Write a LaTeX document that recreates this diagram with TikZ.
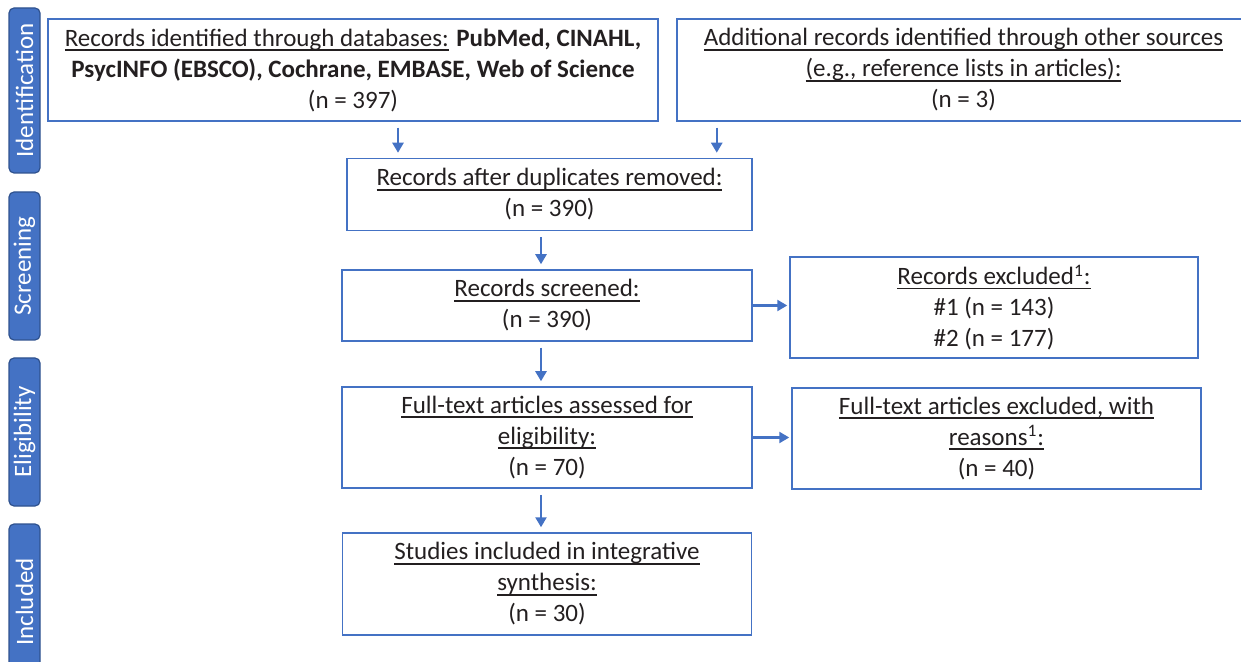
\documentclass[tikz,border=0pt]{standalone}
\usepackage{fontspec}
\setmainfont{Carlito}
\usepackage{xcolor}
\usetikzlibrary{positioning, arrows.meta}

\definecolor{prismablue}{HTML}{4472C4}
\definecolor{prismadark}{HTML}{2F528F}
\definecolor{ink}{HTML}{231F20}

\newlength\ulwd
\newcommand{\uln}[1]{\settowidth{\ulwd}{#1}\rlap{\rule[-2.3pt]{\ulwd}{0.8pt}}#1}

\begin{document}
\begin{tikzpicture}[x=0.5pt, y=-0.5pt, on grid,
    font=\fontsize{12.5}{15.5}\selectfont,
    box/.style={draw=prismablue, line width=0.75pt, text=ink, align=center,
        inner sep=0pt, minimum width=205pt, minimum height=50.5pt},
    phase/.style={draw=prismadark, fill=prismablue, line width=0.6pt,
        rounded corners=2.5pt, text=white, rotate=90, inner sep=0pt,
        minimum height=15.5pt},
    flow/.style={draw=prismablue, line width=1.2pt,
        -{Triangle[length=5pt, width=5.5pt]}, shorten <=3pt, shorten >=2.5pt}]
        \useasboundingbox (0,0) rectangle (1241,662);

        % phases on the left
        \node[phase, minimum width=82.5pt] (ident) at (24.5,90.5) {Identification};
        \node[phase, minimum width=74pt] (screen) at (24.5,266) {Screening};
        \node[phase, minimum width=74pt] (elig) at (24.5,432) {Eligibility};
        \node[phase, minimum width=78pt] (incl) at (24.5,602) {Included};

        % boxes
        \node[box, minimum width=305pt, minimum height=51pt] (db) at (353,70)
            {\uln{Records identified through databases:} \textbf{PubMed, CINAHL,}\\
             \textbf{PsycINFO (EBSCO), Cochrane, EMBASE, Web of Science}\\
             (n = 397)};
        \node[box, minimum width=286.5pt, minimum height=51pt] (other) [right=305.25pt of db]
            {\uln{Additional records identified through other sources}\\
             \uln{(e.g., reference lists in articles):}\\
             (n = 3)};
        \node[box, minimum width=202.5pt, minimum height=36pt] (dup) [below right=62.25pt and 98.25pt of db]
            {\uln{Records after duplicates removed:}\\(n = 390)};
        \node[box, minimum height=35.5pt] (scr) [below left=55.5pt and 1.25pt of dup]
            {\uln{Records screened:}\\(n = 390)};
        \node[box, minimum width=204pt] (excl) [below right=1pt and 223.5pt of scr]
            {\uln{Records excluded\textsuperscript{1}:}\\\#1 (n = 143)\\\#2 (n = 177)};
        \node[box] (full) [below=66pt of scr]
            {\uln{Full-text articles assessed for}\\\uln{eligibility:}\\(n = 70)};
        \node[box, minimum width=204.5pt] (fullexcl) [below right=0.5pt and 224.75pt of full]
            {\uln{Full-text articles excluded, with}\\\uln{reasons\textsuperscript{1}:}\\(n = 40)};
        \node[box, minimum width=204.5pt, minimum height=51pt] (final) [below=73.25pt of full]
            {\uln{Studies included in integrative}\\\uln{synthesis:}\\(n = 30)};

        % arrows
        \draw[flow] ([xshift=22.5pt]db.south) -- ([xshift=22.5pt]db.south |- dup.north);
        \draw[flow] ([xshift=-18pt]dup.north east |- other.south) -- ([xshift=-18pt]dup.north east);
        \draw[flow] ([xshift=-3pt]scr.north |- dup.south) -- ([xshift=-3pt]scr.north);
        \draw[flow] ([xshift=-3pt]scr.south) -- ([xshift=-3pt]scr.south |- full.north);
        \draw[flow] ([xshift=-3pt]full.south) -- ([xshift=-3pt]full.south |- final.north);
        \draw[flow, shorten <=0pt, shorten >=1pt] (scr.east) -- (scr.east -| excl.west);
        \draw[flow, shorten <=0pt, shorten >=1pt] (full.east) -- (full.east -| fullexcl.west);
\end{tikzpicture}
\end{document}
